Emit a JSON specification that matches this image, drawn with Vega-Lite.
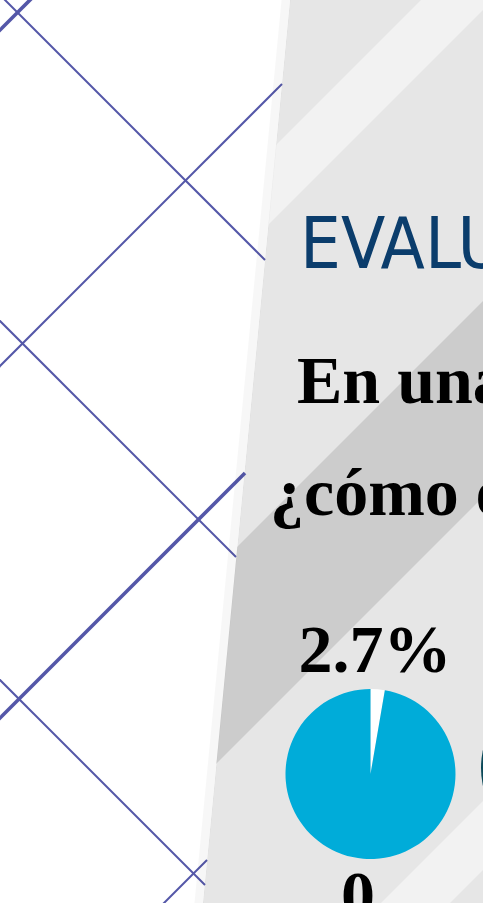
{
  "$schema": "https://vega.github.io/schema/vega-lite/v6.json",
  "width": 483,
  "height": 903,
  "autosize": {"type": "none"},
  "padding": 0,
  "background": "#ffffff",
  "config": {"view": {"stroke": null}, "axis": {"disable": true}},
  "layer": [
    {
      "data": {"values": [
        {"y": -10, "izq": 291, "der": 500},
        {"y": 913, "izq": 202, "der": 500}
      ]},
      "mark": {"type": "area", "orient": "horizontal", "color": "#e6e6e6", "clip": true},
      "encoding": {
        "y": {"field": "y", "type": "quantitative", "scale": {"domain": [0, 903], "reverse": true, "nice": false, "zero": false}, "axis": null},
        "x": {"field": "izq", "type": "quantitative", "scale": {"domain": [0, 483], "nice": false, "zero": false}, "axis": null, "stack": null},
        "x2": {"field": "der"}
      }
    },
    {
      "data": {"values": [
        {"franja": "f1", "tono": "claro", "y": -10, "a": 431, "b": 503},
        {"franja": "f1", "tono": "claro", "y": 913, "a": -492, "b": -420},
        {"franja": "f2", "tono": "oscuro", "y": -10, "a": 794, "b": 990},
        {"franja": "f2", "tono": "oscuro", "y": 913, "a": -129, "b": 67},
        {"franja": "f3", "tono": "claro", "y": -10, "a": 1294, "b": 1363},
        {"franja": "f3", "tono": "claro", "y": 913, "a": 371, "b": 440}
      ]},
      "mark": {"type": "area", "orient": "horizontal", "clip": true},
      "encoding": {
        "y": {"field": "y", "type": "quantitative"},
        "x": {"field": "a", "type": "quantitative", "stack": null},
        "x2": {"field": "b"},
        "detail": {"field": "franja"},
        "color": {"field": "tono", "type": "nominal", "scale": {"domain": ["claro", "oscuro"], "range": ["#f2f2f2", "#cccccc"]}, "legend": null}
      }
    },
    {
      "data": {"values": [
        {"y": -10, "a": -10, "b": 291},
        {"y": 913, "a": -10, "b": 202}
      ]},
      "mark": {"type": "area", "orient": "horizontal", "color": "#ffffff", "clip": true},
      "encoding": {
        "y": {"field": "y", "type": "quantitative"},
        "x": {"field": "a", "type": "quantitative", "stack": null},
        "x2": {"field": "b"}
      }
    },
    {
      "data": {"values": [
        {"linea": "d1", "grosor": "fina", "x": -20, "y": -25},
        {"linea": "d1", "grosor": "fina", "x": 265, "y": 260},
        {"linea": "d2", "grosor": "fina", "x": -20, "y": 301},
        {"linea": "d2", "grosor": "fina", "x": 236, "y": 557},
        {"linea": "d3", "grosor": "fina", "x": -20, "y": 660},
        {"linea": "d3", "grosor": "fina", "x": 205, "y": 885},
        {"linea": "a1", "grosor": "gruesa", "x": -20, "y": 50},
        {"linea": "a1", "grosor": "gruesa", "x": 50, "y": -20},
        {"linea": "a2", "grosor": "fina", "x": -20, "y": 386},
        {"linea": "a2", "grosor": "fina", "x": 282, "y": 84},
        {"linea": "a3", "grosor": "gruesa", "x": -20, "y": 738},
        {"linea": "a3", "grosor": "gruesa", "x": 245, "y": 473},
        {"linea": "a4", "grosor": "fina", "x": 150, "y": 917},
        {"linea": "a4", "grosor": "fina", "x": 207, "y": 860}
      ]},
      "mark": {"type": "line", "color": "#5457a8", "clip": true, "strokeCap": "butt"},
      "encoding": {
        "x": {"field": "x", "type": "quantitative"},
        "y": {"field": "y", "type": "quantitative"},
        "detail": {"field": "linea"},
        "strokeWidth": {"field": "grosor", "type": "nominal", "scale": {"domain": ["fina", "gruesa"], "range": [2, 3.6]}, "legend": null}
      }
    },
    {
      "data": {"values": [
        {"x": 291, "y": -10},
        {"x": 202, "y": 913}
      ]},
      "mark": {"type": "line", "color": "#000000", "opacity": 0.03, "strokeWidth": 9, "xOffset": -4, "clip": true},
      "encoding": {
        "x": {"field": "x", "type": "quantitative"},
        "y": {"field": "y", "type": "quantitative"}
      }
    },
    {
      "data": {"values": [{"texto": "EVALUACIÓN DE LA SEGURIDAD", "x": 300, "y": 268}]},
      "mark": {"type": "text", "align": "left", "baseline": "alphabetic", "font": "DejaVu Sans Condensed, Roboto, sans-serif", "fontSize": 72, "color": "#0b3d6c"},
      "encoding": {
        "x": {"field": "x", "type": "quantitative"},
        "y": {"field": "y", "type": "quantitative"},
        "text": {"field": "texto"}
      }
    },
    {
      "data": {"values": [
        {"texto": "En una escala del 1 al 10,", "x": 297, "y": 403},
        {"texto": "¿cómo evalúas la seguridad?", "x": 270, "y": 515}
      ]},
      "mark": {"type": "text", "align": "left", "baseline": "alphabetic", "font": "Liberation Serif", "fontWeight": "bold", "fontSize": 68, "color": "#000000"},
      "encoding": {
        "x": {"field": "x", "type": "quantitative"},
        "y": {"field": "y", "type": "quantitative"},
        "text": {"field": "texto"}
      }
    },
    {
      "data": {"values": [
        {"texto": "2.7%", "x": 375, "y": 672},
        {"texto": "0", "x": 358, "y": 918}
      ]},
      "mark": {"type": "text", "align": "center", "baseline": "alphabetic", "font": "Liberation Serif", "fontWeight": "bold", "fontSize": 68, "color": "#000000"},
      "encoding": {
        "x": {"field": "x", "type": "quantitative"},
        "y": {"field": "y", "type": "quantitative"},
        "text": {"field": "texto"}
      }
    },
    {
      "data": {"values": [
        {"grafico": "p1", "parte": "calificación", "k": 1, "valor": 2.7, "cx": 370.5, "cy": 774},
        {"grafico": "p1", "parte": "resto", "k": 2, "valor": 97.3, "cx": 370.5, "cy": 774}
      ]},
      "mark": {"type": "arc", "radius": 85},
      "encoding": {
        "theta": {"field": "valor", "type": "quantitative", "stack": true},
        "order": {"field": "k", "type": "quantitative"},
        "x": {"field": "cx", "type": "quantitative"},
        "y": {"field": "cy", "type": "quantitative"},
        "color": {"field": "parte", "type": "nominal", "scale": {"domain": ["calificación", "resto"], "range": ["#ffffff", "#00acd9"]}, "legend": null}
      }
    },
    {
      "data": {"values": [
        {"grafico": "p2", "parte": "resto2", "valor": 100, "cx": 566, "cy": 768}
      ]},
      "mark": {"type": "arc", "radius": 85, "color": "#0a4858"},
      "encoding": {
        "theta": {"field": "valor", "type": "quantitative"},
        "x": {"field": "cx", "type": "quantitative"},
        "y": {"field": "cy", "type": "quantitative"}
      }
    }
  ],
  "resolve": {"scale": {"theta": "independent", "color": "independent", "strokeWidth": "independent"}}
}
